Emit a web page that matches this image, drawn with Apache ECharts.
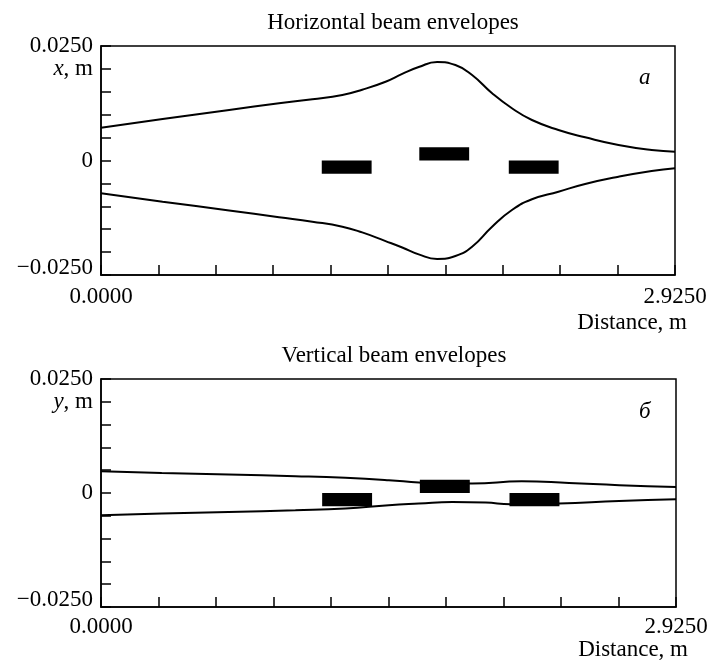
<!DOCTYPE html>
<html>
<head>
<meta charset="utf-8">
<script src="https://cdn.jsdelivr.net/npm/echarts@6/dist/echarts.min.js"></script>
<style>
html,body{margin:0;padding:0;background:#fff;}
#chart{width:711px;height:662px;}
</style>
</head>
<body>
<div id="chart"></div>
<script>
// ---- Data ----
// Horizontal envelopes (distance, m ; x, m)
const hS      = [0, 0.314, 0.653, 0.907, 1.077, 1.230, 1.331, 1.450, 1.535, 1.619, 1.713, 1.806, 1.891, 1.993, 2.094, 2.196, 2.331, 2.467, 2.637, 2.806, 2.925];
const hUpper  = [0.00716, 0.00906, 0.01102, 0.01249, 0.01336, 0.01430, 0.01545, 0.01720, 0.01890, 0.02040, 0.02150, 0.02085, 0.01866, 0.01467, 0.01140, 0.00884, 0.00666, 0.00506, 0.00338, 0.00229, 0.00192];
const hLower  = [-0.00716, -0.00899, -0.01092, -0.01238, -0.01336, -0.01445, -0.01570, -0.01760, -0.01900, -0.02050, -0.02150, -0.02085, -0.01882, -0.01445, -0.01081, -0.00847, -0.00681, -0.00513, -0.00354, -0.00229, -0.00170];
// Vertical envelopes (distance, m ; y, m)
const vUpperS = [0, 0.309, 0.649, 0.989, 1.243, 1.464, 1.617, 1.750, 1.889, 2.140, 2.381, 2.636, 2.925];
const vUpper  = [0.00479, 0.00441, 0.00406, 0.00369, 0.00332, 0.00281, 0.00231, 0.00210, 0.00209, 0.00255, 0.00220, 0.00171, 0.00134];
const vLowerS = [0, 0.309, 0.649, 0.989, 1.243, 1.464, 1.617, 1.787, 1.957, 2.084, 2.330, 2.636, 2.925];
const vLower  = [-0.00488, -0.00450, -0.00415, -0.00378, -0.00340, -0.00268, -0.00231, -0.00195, -0.00209, -0.00246, -0.00231, -0.00173, -0.00136];
// Magnets (start, end, height)
const magnetStart  = [1.125, 1.622, 2.078];
const magnetEnd    = [1.379, 1.876, 2.332];
const magnetHeight = [-0.0029, 0.0029, -0.0029];
// Axes
const sMin = 0, sMax = 2.925, sStep = 0.2925;
const yMin = -0.025, yMax = 0.025, yStep = 0.005;
const titles = ['Horizontal beam envelopes', 'Vertical beam envelopes'];
const yNames = ['x', 'y'];
const panelTags = ['а', 'б'];

// ---- Build ----
const FONT = "'Liberation Serif', 'Times New Roman', serif";
const FS = 23;
const zip = (a, b) => a.map((v, i) => [v, b[i]]);
const magnets = magnetStart.map((s, i) => [s, magnetEnd[i], magnetHeight[i]]);
const namePad = [36, 31];

function xAxisCfg(gi) {
  return {
    type: 'value', gridIndex: gi, min: sMin, max: sMax, interval: sStep,
    name: 'Distance, m', nameLocation: 'end', nameGap: 12,
    nameTextStyle: { fontFamily: FONT, fontSize: FS, color: '#000', align: 'right', verticalAlign: 'top', padding: [namePad[gi], 0, 0, 0] },
    axisLine: { show: true, onZero: false, lineStyle: { color: '#000', width: 1.5 } },
    axisTick: { show: true, inside: true, length: 10, lineStyle: { color: '#000', width: 1.5 } },
    splitLine: { show: false },
    axisLabel: {
      show: true, margin: gi === 0 ? 10 : 8, fontFamily: FONT, fontSize: FS, color: '#000',
      showMinLabel: true, showMaxLabel: true,
      formatter: v => Math.abs(v - sMin) < 1e-9 ? '0.0000' : (Math.abs(v - sMax) < 1e-6 ? '2.9250' : '')
    }
  };
}
function yAxisCfg(gi) {
  return {
    type: 'value', gridIndex: gi, min: yMin, max: yMax, interval: yStep,
    axisLine: { show: true, onZero: false, lineStyle: { color: '#000', width: 1.5 } },
    axisTick: { show: true, inside: true, length: 10, lineStyle: { color: '#000', width: 1.5 } },
    splitLine: { show: false },
    axisLabel: {
      show: true, margin: 8, fontFamily: FONT, fontSize: FS, lineHeight: 16, color: '#000',
      showMinLabel: true, showMaxLabel: true, hideOverlap: false,
      formatter: v => {
        if (Math.abs(v - yMax) < 1e-9) return '0.0250';
        if (Math.abs(v) < 1e-9) return '0';
        if (Math.abs(v - yMin) < 1e-9) return '{lo|\u22120.0250}';
        if (Math.abs(v - 0.02) < 1e-9) return '{it|' + yNames[gi] + '}, m';
        return '';
      },
      rich: {
        it: { fontStyle: 'italic', fontFamily: FONT, fontSize: FS, lineHeight: 16, color: '#000' },
        lo: { fontFamily: FONT, fontSize: FS, lineHeight: 16, color: '#000', padding: [0, 0, 14, 0] }
      }
    }
  };
}
function lineSeries(gi, data) {
  return {
    type: 'line', xAxisIndex: gi, yAxisIndex: gi, data: data,
    smooth: 0.5, showSymbol: false, symbol: 'none',
    lineStyle: { color: '#000', width: 2 }, silent: true, animation: false, z: 2
  };
}
function magnetSeries(gi) {
  return {
    type: 'custom', xAxisIndex: gi, yAxisIndex: gi, data: magnets,
    encode: { x: [0, 1], y: [2] }, animation: false, silent: true, z: 5,
    renderItem: (params, api) => {
      const p1 = api.coord([api.value(0), 0]);
      const p2 = api.coord([api.value(1), api.value(2)]);
      return {
        type: 'rect',
        shape: { x: Math.min(p1[0], p2[0]), y: Math.min(p1[1], p2[1]), width: Math.abs(p2[0] - p1[0]), height: Math.abs(p2[1] - p1[1]) },
        style: { fill: '#000' }
      };
    }
  };
}

const grids = [
  { left: 101, top: 46, width: 574, height: 229 },
  { left: 101, top: 379, width: 575, height: 228 }
];

const chart = echarts.init(document.getElementById('chart'), null, { renderer: 'canvas' });
chart.setOption({
  backgroundColor: '#fff',
  animation: false,
  title: [
    { text: titles[0], left: 388, top: 6, textAlign: 'center', textStyle: { fontFamily: FONT, fontSize: FS, fontWeight: 'normal', color: '#000' } },
    { text: titles[1], left: 389, top: 339, textAlign: 'center', textStyle: { fontFamily: FONT, fontSize: FS, fontWeight: 'normal', color: '#000' } }
  ],
  grid: grids.map(g => Object.assign({ show: true, borderColor: '#000', borderWidth: 1.5, backgroundColor: 'transparent', containLabel: false, outerBoundsMode: 'none' }, g)),
  xAxis: [xAxisCfg(0), xAxisCfg(1)],
  yAxis: [yAxisCfg(0), yAxisCfg(1)],
  graphic: [
    { type: 'text', left: 639, top: 66, style: { text: panelTags[0], fontFamily: FONT, fontSize: FS, fontStyle: 'italic', fill: '#000' } },
    { type: 'text', left: 639, top: 400, style: { text: panelTags[1], fontFamily: FONT, fontSize: FS, fontStyle: 'italic', fill: '#000' } }
  ],
  series: [
    lineSeries(0, zip(hS, hUpper)),
    lineSeries(0, zip(hS, hLower)),
    magnetSeries(0),
    lineSeries(1, zip(vUpperS, vUpper)),
    lineSeries(1, zip(vLowerS, vLower)),
    magnetSeries(1)
  ]
});
</script>
</body>
</html>
